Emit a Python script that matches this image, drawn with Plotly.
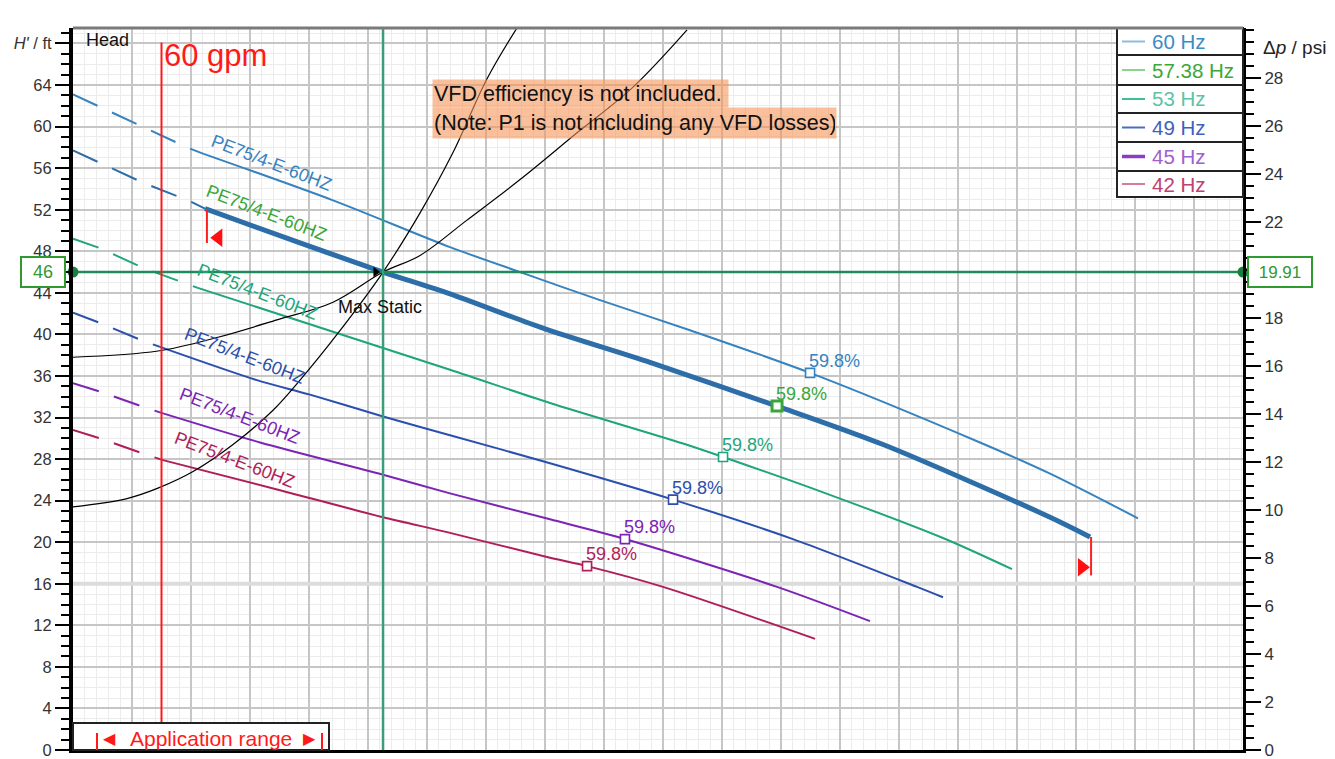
import plotly.graph_objects as go

# ---------------- data ----------------
Q_MAX = 793.2        # gpm at right edge of plot
H_MAX = 69.49        # ft at top edge of plot
PSI_PER_FT = 0.43283 # 19.91 psi / 46 ft

speed_names = ["60 Hz", "57.38 Hz", "53 Hz", "49 Hz", "45 Hz", "42 Hz"]
curve_label = "PE75/4-E-60HZ"

# 60 Hz
q60_dash = [0, 18.3, 47.5, 77.3, 88.1]
h60_dash = [63.1, 61.9, 60.0, 58.0, 57.4]
q60 = [88.1, 176.3, 255.6, 305.1, 357.3, 418.3, 499.7, 614.9, 662.4, 722.0]
h60 = [57.4, 52.9, 48.4, 45.9, 43.3, 40.4, 36.3, 29.6, 26.6, 22.3]
# 57.38 Hz (duty speed)
q57_dash = [0, 18.3, 47.5, 78.0, 89.5]
h57_dash = [57.7, 56.5, 54.6, 52.9, 52.1]
q57 = [89.5, 153.9, 210.2, 255.6, 318.6, 391.2, 477.3, 549.2, 662.4, 689.5]
h57 = [52.1, 48.8, 46.0, 43.9, 40.6, 37.3, 33.1, 29.4, 22.4, 20.5]
# 53 Hz
q53_dash = [0, 18.3, 47.5, 59.0, 84.1]
h53_dash = [49.2, 48.3, 46.4, 45.8, 44.5]
q53 = [84.1, 255.6, 323.4, 413.6, 440.7, 508.5, 589.8, 636.6]
h53 = [44.5, 36.6, 33.4, 29.5, 28.2, 24.8, 20.4, 17.4]
# 49 Hz
q49_dash = [0, 18.3, 48.8, 59.0]
h49_dash = [42.1, 41.1, 39.3, 38.8]
q49 = [59.0, 124.7, 160.7, 210.2, 255.6, 323.4, 406.8, 488.1, 572.2, 589.8]
h49 = [38.8, 35.6, 34.2, 32.1, 30.3, 27.6, 24.1, 20.3, 15.7, 14.7]
# 45 Hz
q45_dash = [0, 18.3, 50.2, 61.0]
h45_dash = [35.3, 34.5, 32.9, 32.4]
q45 = [61.0, 126.8, 210.2, 255.6, 323.4, 374.2, 477.3, 540.3]
h45 = [32.4, 29.6, 26.5, 24.7, 22.2, 20.3, 15.7, 12.4]
# 42 Hz
q42_dash = [0, 18.3, 50.2, 61.0]
h42_dash = [30.8, 30.0, 28.4, 27.9]
q42 = [61.0, 140.3, 210.2, 255.6, 323.4, 348.5, 400.0, 503.1]
h42 = [27.9, 25.0, 22.4, 20.9, 18.5, 17.7, 15.7, 10.7]

# best-efficiency points
eff_q = [499.7, 477.3, 440.7, 406.8, 374.2, 348.5]
eff_h = [36.3, 33.1, 28.2, 24.1, 20.3, 17.7]
eff_text = ["59.8%"] * 6

# curve-name label positions
lab_q = [134.9, 131.5, 125.4, 116.6, 113.2, 109.8]
lab_h = [56.5, 51.7, 44.1, 37.9, 32.1, 27.9]

# system curves
sysA_q = [0, 57.6, 97.6, 138.3, 176.3, 210.2, 235.3, 267.1, 303.1, 341.7, 379.7, 416.3]
sysA_h = [37.8, 38.4, 39.7, 41.4, 43.1, 46.0, 47.6, 51.0, 54.9, 59.4, 63.8, 69.3]
sysB_q = [0, 36.6, 57.6, 81.4, 108.5, 135.6, 153.9, 179.0, 210.2, 235.3, 257.6, 280.7, 301.0]
sysB_h = [23.4, 24.2, 25.2, 26.8, 29.4, 32.7, 35.6, 40.0, 46.0, 51.7, 57.5, 64.6, 69.5]

# duty point
Q_DUTY = 210.2
H_DUTY = 46.0
P_DUTY = 19.91
# minimum flow line
Q_MIN = 60
# application range flags
flag_start_q = [90.8, 90.8]
flag_start_h = [52.0, 48.8]
flag_start_tri = (98.5, 49.3)
flag_end_q = [690.2, 690.2]
flag_end_h = [20.5, 16.8]
flag_end_tri = (684.0, 17.6)

left_ticks = list(range(0, 69, 4))
right_ticks = list(range(0, 29, 2))

# ---------------- styling ----------------
c60, c57, c53, c49, c45, c42 = "#3683c0", "#2d6ea8", "#1ea57c", "#2b4fae", "#7b25b4", "#b01e5a"
curve_cols = [c60, c57, c53, c49, c45, c42]
label_cols = [c60, "#3aa63a", c53, c49, c45, c42]
legend_line_cols = ["#8cbde0", "#8fd18f", "#3fbf98", "#4a6cc2", "#8a3cc4", "#d77aa0"]
legend_text_cols = ["#3b8bc6", "#3aa83a", "#5cc4a6", "#4060c0", "#a060d0", "#c04072"]
GREEN_H = "#1f8a5a"
GREEN_V = "#3a9e7a"
BOX_GREEN = "#2f9a2f"
FONT = "Liberation Sans, Arial, Helvetica, sans-serif"

# plot-area edges in screen pixels (page body adds an 8 px offset)
OFF = 8
L, R, T, B = 73, 1243, 28, 750
FIG_W, FIG_H = 1335 - OFF, 759 - OFF


def px_x(px):
    return (px - L) / (R - L)


def px_y(py):
    return (B - py) / (B - T)


fig = go.Figure()

dash_sets = [(q60_dash, h60_dash), (q57_dash, h57_dash), (q53_dash, h53_dash),
             (q49_dash, h49_dash), (q45_dash, h45_dash), (q42_dash, h42_dash)]
solid_sets = [(q60, h60), (q57, h57), (q53, h53), (q49, h49), (q45, h45), (q42, h42)]

for i, ((qd, hd), (qs, hs)) in enumerate(zip(dash_sets, solid_sets)):
    col = curve_cols[i]
    fig.add_trace(go.Scatter(x=qd, y=hd, mode="lines", line=dict(color=col, width=2, dash="27px,16px"),
                             hoverinfo="skip"))
    fig.add_trace(go.Scatter(x=qs, y=hs, mode="lines",
                             line=dict(color=col, width=5 if i == 1 else 2, shape="spline", smoothing=0.8),
                             name=speed_names[i], hoverinfo="skip"))

# system curves
fig.add_trace(go.Scatter(x=sysA_q, y=sysA_h, mode="lines", line=dict(color="black", width=1.2, shape="spline"),
                         hoverinfo="skip"))
fig.add_trace(go.Scatter(x=sysB_q, y=sysB_h, mode="lines", line=dict(color="black", width=1.2, shape="spline"),
                         hoverinfo="skip"))

# green crosshair
fig.add_trace(go.Scatter(x=[0, Q_MAX], y=[H_DUTY, H_DUTY], mode="lines", line=dict(color=GREEN_H, width=2.5),
                         hoverinfo="skip"))
fig.add_trace(go.Scatter(x=[Q_DUTY, Q_DUTY], y=[0, H_MAX], mode="lines", line=dict(color=GREEN_V, width=2.5),
                         hoverinfo="skip"))
fig.add_trace(go.Scatter(x=[0], y=[H_DUTY], mode="markers", marker=dict(color="#17803a", size=11),
                         cliponaxis=False, hoverinfo="skip"))
fig.add_trace(go.Scatter(x=[Q_MAX], y=[P_DUTY], yaxis="y2", mode="markers", marker=dict(color="#17803a", size=11),
                         cliponaxis=False, hoverinfo="skip"))
# duty marker
fig.add_trace(go.Scatter(x=[Q_DUTY - 5], y=[H_DUTY], mode="markers",
                         marker=dict(color="black", size=9, symbol="triangle-right"), hoverinfo="skip"))

# minimum flow red line
fig.add_trace(go.Scatter(x=[Q_MIN, Q_MIN], y=[0, 68.1], mode="lines", line=dict(color="#ff1a1a", width=2),
                         hoverinfo="skip"))

# application range flags
fig.add_trace(go.Scatter(x=flag_start_q, y=flag_start_h, mode="lines", line=dict(color="#ff2020", width=2),
                         hoverinfo="skip"))
fig.add_trace(go.Scatter(x=[flag_start_tri[0]], y=[flag_start_tri[1]], mode="markers",
                         marker=dict(color="#ff1010", size=16, symbol="triangle-left"), hoverinfo="skip"))
fig.add_trace(go.Scatter(x=flag_end_q, y=flag_end_h, mode="lines", line=dict(color="#ff2020", width=2),
                         hoverinfo="skip"))
fig.add_trace(go.Scatter(x=[flag_end_tri[0]], y=[flag_end_tri[1]], mode="markers",
                         marker=dict(color="#ff1010", size=16, symbol="triangle-right"), hoverinfo="skip"))

# efficiency markers
for i in range(6):
    fig.add_trace(go.Scatter(x=[eff_q[i]], y=[eff_h[i]], mode="markers",
                             marker=dict(symbol="square", size=9 if i != 1 else 10, color="white",
                                         line=dict(color=label_cols[i], width=1.6 if i != 1 else 3)),
                             hoverinfo="skip"))

annotations = []
shapes = []

# efficiency labels
for i in range(6):
    annotations.append(dict(x=eff_q[i], y=eff_h[i], xref="x", yref="y", text=eff_text[i], showarrow=False,
                            xanchor="left", yanchor="bottom", xshift=-3, yshift=0,
                            font=dict(size=18, color=label_cols[i], family=FONT)))
# curve name labels
for i in range(6):
    annotations.append(dict(x=lab_q[i], y=lab_h[i], xref="x", yref="y", text=curve_label, showarrow=False,
                            textangle=21, xanchor="center", yanchor="middle",
                            font=dict(size=18, color=label_cols[i], family=FONT)))

# text annotations
annotations += [
    dict(x=Q_MIN, y=66.8, xref="x", yref="y", text="60 gpm", showarrow=False, xanchor="left", yanchor="middle",
         xshift=0, font=dict(size=31, color="#ff1a1a", family=FONT)),
    dict(x=px_x(84), y=px_y(40), xref="paper", yref="paper", text="Head", showarrow=False, xanchor="left",
         yanchor="middle", font=dict(size=18, color="#111", family=FONT)),
    dict(x=px_x(336), y=px_y(307), xref="paper", yref="paper", text="Max Static", showarrow=False,
         xanchor="left", yanchor="middle", font=dict(size=18, color="#111", family=FONT)),
    dict(x=px_x(432), y=px_y(93), xref="paper", yref="paper", text="VFD efficiency is not included.",
         showarrow=False, xanchor="left", yanchor="middle", align="left", width=293, height=25, borderpad=1,
         bgcolor="rgba(246,150,90,0.6)", font=dict(size=21.5, color="#111", family=FONT)),
    dict(x=px_x(432), y=px_y(122.5), xref="paper", yref="paper",
         text="(Note: P1 is not including any VFD losses)",
         showarrow=False, xanchor="left", yanchor="middle", align="left", width=401, height=28, borderpad=1,
         bgcolor="rgba(246,150,90,0.6)", font=dict(size=21.5, color="#111", family=FONT)),
    dict(x=px_x(1261), y=px_y(48), xref="paper", yref="paper", text="Δ<i>p</i> / psi", showarrow=False,
         xanchor="left", yanchor="middle", font=dict(size=19, color="#222", family=FONT)),
    dict(x=px_x(42.5), y=H_DUTY, xref="paper", yref="y", text="46", showarrow=False,
         xanchor="center", yanchor="middle", width=40, height=26, borderpad=1, borderwidth=2,
         bordercolor=BOX_GREEN, bgcolor="white", font=dict(size=18, color=BOX_GREEN, family=FONT)),
    dict(x=px_x(1280), y=P_DUTY, xref="paper", yref="y2", text=f"{P_DUTY:.2f}", showarrow=False,
         xanchor="center", yanchor="middle", width=60, height=26, borderpad=1, borderwidth=2,
         bordercolor=BOX_GREEN, bgcolor="white", font=dict(size=17, color=BOX_GREEN, family=FONT)),
    dict(x=px_x(210.5), y=px_y(738), xref="paper", yref="paper", text="Application range", showarrow=False,
         xanchor="center", yanchor="middle", font=dict(size=21, color="#ff1a1a", family=FONT)),
    dict(x=px_x(109), y=px_y(738), xref="paper", yref="paper", text="◀", showarrow=False,
         xanchor="center", yanchor="middle", font=dict(size=16, color="#ff1a1a", family="DejaVu Sans")),
    dict(x=px_x(309), y=px_y(738), xref="paper", yref="paper", text="▶", showarrow=False,
         xanchor="center", yanchor="middle", font=dict(size=16, color="#ff1a1a", family="DejaVu Sans")),
]

# legend (manual, boxed rows)
rows_px = [28, 55, 85, 113, 142, 171, 197]
for i in range(6):
    y_top, y_bot = rows_px[i], rows_px[i + 1]
    yc = (y_top + y_bot) / 2
    shapes.append(dict(type="rect", xref="paper", yref="paper", x0=px_x(1117), x1=px_x(1243),
                       y0=px_y(y_bot), y1=px_y(y_top), line=dict(color="#222", width=2), fillcolor="white",
                       layer="above"))
    shapes.append(dict(type="line", xref="paper", yref="paper", x0=px_x(1122), x1=px_x(1145),
                       y0=px_y(yc), y1=px_y(yc), line=dict(color=legend_line_cols[i], width=3.5 if i == 4 else 2),
                       layer="above"))
    annotations.append(dict(x=px_x(1150), y=px_y(yc), xref="paper", yref="paper", text=speed_names[i],
                            showarrow=False, xanchor="left", yanchor="middle",
                            font=dict(size=20.5, color=legend_text_cols[i], family=FONT)))

# frame pieces
shapes += [
    dict(type="line", xref="x", yref="y", x0=0, x1=Q_MAX, y0=16, y1=16,
         line=dict(color="#dcdcdc", width=4), layer="between"),
    dict(type="line", xref="paper", yref="paper", x0=0, x1=1, y0=1, y1=1,
         line=dict(color="#7a7a7a", width=3), layer="above"),
    dict(type="line", xref="paper", yref="paper", x0=px_x(1331), x1=px_x(1331), y0=px_y(759), y1=px_y(8),
         line=dict(color="#9a9a9a", width=2), layer="above"),
    dict(type="rect", xref="paper", yref="paper", x0=0, x1=px_x(329), y0=0, y1=px_y(723),
         line=dict(color="#222", width=2), fillcolor="white", layer="above"),
    dict(type="line", xref="paper", yref="paper", x0=px_x(97), x1=px_x(97), y0=0, y1=px_y(733),
         line=dict(color="#ff1a1a", width=2), layer="above"),
    dict(type="line", xref="paper", yref="paper", x0=px_x(322), x1=px_x(322), y0=0, y1=px_y(733),
         line=dict(color="#ff1a1a", width=2), layer="above"),
]

left_text = [str(v) for v in left_ticks[:-1]] + ["<i>H'</i> / ft"]
# the 20 psi label sits under the 19.91 duty box, as in the reference
right_text = ["" if v == 20 else str(v) for v in right_ticks]

fig.update_layout(
    template="none",
    width=FIG_W, height=FIG_H, autosize=False,
    margin=dict(l=L - OFF, r=FIG_W - (R - OFF), t=T - OFF, b=FIG_H - (B - OFF), pad=0),
    paper_bgcolor="white", plot_bgcolor="white",
    font=dict(family=FONT, size=16, color="#222"),
    showlegend=False,
    xaxis=dict(range=[0, Q_MAX], tick0=0, dtick=40, ticks="", showticklabels=False, automargin=False,
               showgrid=True, gridcolor="#c6c6c6", gridwidth=1.5, zeroline=False,
               minor=dict(tickmode="linear", tick0=0, dtick=8, showgrid=True, gridcolor="#ececec", gridwidth=1),
               showline=True, linecolor="black", linewidth=3, fixedrange=True),
    yaxis=dict(range=[0, H_MAX], tickmode="array", tickvals=left_ticks, ticktext=left_text,
               ticks="outside", ticklen=14, tickwidth=2, tickcolor="black", automargin=False,
               ticklabeloverflow="allow",
               showgrid=True, gridcolor="#c6c6c6", gridwidth=1.5, zeroline=False,
               minor=dict(tickmode="linear", tick0=0, dtick=1, ticks="outside", ticklen=8, tickwidth=2,
                          tickcolor="black", showgrid=True, gridcolor="#ececec", gridwidth=1),
               showline=True, linecolor="black", linewidth=4, tickfont=dict(size=16.5, color="#333"),
               fixedrange=True),
    yaxis2=dict(range=[0, H_MAX * PSI_PER_FT], overlaying="y", side="right", tickmode="array",
                tickvals=right_ticks, ticktext=right_text, ticks="outside", ticklen=15, tickwidth=2,
                tickcolor="black", automargin=False, showgrid=False, zeroline=False,
                ticklabeloverflow="allow",
                minor=dict(tickmode="linear", tick0=0, dtick=0.5, ticks="outside", ticklen=8, tickwidth=2,
                           tickcolor="black", showgrid=False),
                showline=True, linecolor="black", linewidth=3, tickfont=dict(size=17, color="#333"),
                fixedrange=True),
    annotations=annotations,
    shapes=shapes,
)

fig.write_html("out.html")
